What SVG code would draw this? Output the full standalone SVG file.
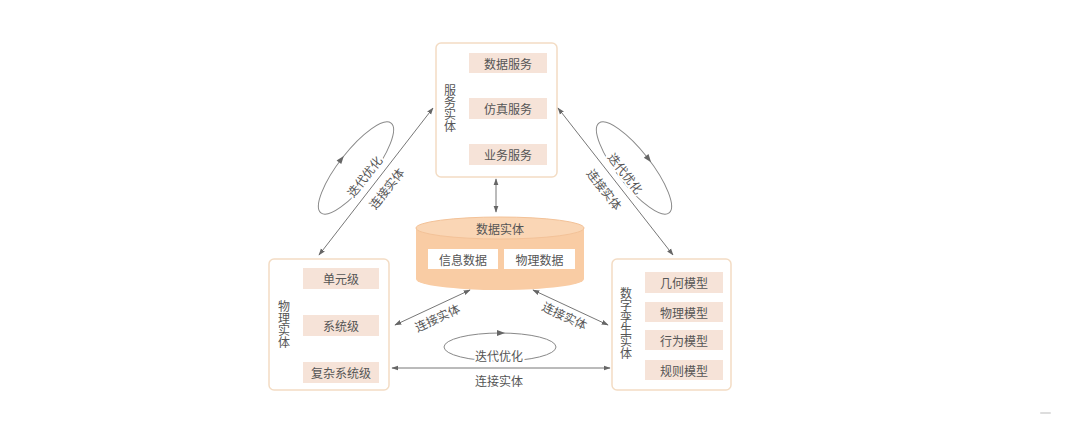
<svg xmlns="http://www.w3.org/2000/svg" width="1080" height="422" viewBox="0 0 1080 422">
<defs>
<marker id="ah" viewBox="0 0 10 10" refX="9" refY="5" markerWidth="7" markerHeight="7" orient="auto-start-reverse" markerUnits="userSpaceOnUse">
<path d="M0,1.5 L10,5 L0,8.5 Z" fill="#666"/>
</marker>
<path id="loophead" d="M-4,-3 L4,0 L-4,3 Z" fill="#666"/>
</defs>
<style>
.frame{fill:#fff;stroke:#f3dcc4;stroke-width:1.5}
.item{fill:#f6e3d8}
.t{font-family:"Noto Sans CJK SC","Noto Sans CJK JP",sans-serif;font-size:12px;fill:#555;text-anchor:middle;dominant-baseline:central}
.v{font-family:"Noto Sans CJK SC","Noto Sans CJK JP",sans-serif;font-size:12px;fill:#555;text-anchor:middle;writing-mode:vertical-rl;text-orientation:upright}
.lbl{font-family:"Noto Sans CJK SC","Noto Sans CJK JP",sans-serif;font-size:12px;fill:#555;text-anchor:middle;dominant-baseline:central}
.halo{paint-order:stroke;stroke:#fff;stroke-width:4px}
.conn{stroke:#777;stroke-width:1;fill:none}
.loop{stroke:#888;stroke-width:1;fill:none}
.w{fill:#fff}
</style>
<rect width="1080" height="422" fill="#fff"/>

<g id="service-entity">
<rect class="frame" x="436" y="43" width="121" height="134" rx="5"/>
<rect class="item" x="469" y="53" width="78" height="20"/>
<text class="t" x="508" y="63">数据服务</text>
<rect class="item" x="469" y="98" width="78" height="21"/>
<text class="t" x="508" y="108.5">仿真服务</text>
<rect class="item" x="469" y="144" width="78" height="21"/>
<text class="t" x="508" y="154.5">业务服务</text>
<text class="v" x="450" y="108">服务实体</text>
</g>

<g id="data-entity">
<path d="M416,228 L416,279 A84,11 0 0 0 584,279 L584,228 Z" fill="#f9cca4"/>
<ellipse cx="500" cy="228" rx="84" ry="11" fill="#fad6b5" stroke="#f3c298" stroke-width="1"/>
<text class="t" x="500" y="228">数据实体</text>
<rect class="w" x="428" y="249" width="70" height="20"/>
<text class="t" x="463" y="259">信息数据</text>
<rect class="w" x="504" y="249" width="71" height="20"/>
<text class="t" x="539.5" y="259">物理数据</text>
</g>

<g id="physical-entity">
<rect class="frame" x="269" y="259" width="120" height="131" rx="5"/>
<rect class="item" x="303" y="268" width="76" height="21"/>
<text class="t" x="341" y="278.5">单元级</text>
<rect class="item" x="303" y="315" width="76" height="21"/>
<text class="t" x="341" y="325.5">系统级</text>
<rect class="item" x="303" y="362" width="76" height="21"/>
<text class="t" x="341" y="372.5">复杂系统级</text>
<text class="v" x="284" y="324">物理实体</text>
</g>

<g id="twin-entity">
<rect class="frame" x="612" y="259" width="119" height="131" rx="5"/>
<rect class="item" x="645" y="272" width="78" height="21"/>
<text class="t" x="684" y="282.5">几何模型</text>
<rect class="item" x="645" y="302" width="78" height="20"/>
<text class="t" x="684" y="312">物理模型</text>
<rect class="item" x="645" y="330" width="78" height="20"/>
<text class="t" x="684" y="340">行为模型</text>
<rect class="item" x="645" y="360" width="78" height="20"/>
<text class="t" x="684" y="370">规则模型</text>
<text class="v" x="626" y="323">数字孪生实体</text>
</g>

<g id="connectors">
<line class="conn" x1="319" y1="255" x2="433" y2="108" marker-start="url(#ah)" marker-end="url(#ah)"/>
<line class="conn" x1="558" y1="108" x2="673" y2="255" marker-start="url(#ah)" marker-end="url(#ah)"/>
<line class="conn" x1="496" y1="179" x2="496" y2="212" marker-start="url(#ah)" marker-end="url(#ah)"/>
<line class="conn" x1="470" y1="290" x2="395" y2="325" marker-start="url(#ah)" marker-end="url(#ah)"/>
<line class="conn" x1="533" y1="290" x2="608" y2="325" marker-start="url(#ah)" marker-end="url(#ah)"/>
<line class="conn" x1="392" y1="368" x2="610" y2="368" marker-start="url(#ah)" marker-end="url(#ah)"/>

<g transform="rotate(-52 356 168)">
<ellipse class="loop" cx="356" cy="168" rx="57" ry="17"/>
<use href="#loophead" x="354" y="151"/>
</g>
<g transform="rotate(52 634 168)">
<ellipse class="loop" cx="634" cy="168" rx="57" ry="17"/>
<use href="#loophead" x="636" y="151"/>
</g>
<ellipse class="loop" cx="500" cy="347" rx="56" ry="14"/>
<use href="#loophead" x="501" y="333"/>

<text class="lbl halo" x="364" y="176" transform="rotate(-52 364 176)">迭代优化</text>
<text class="lbl" x="386" y="188" transform="rotate(-52 386 188)">连接实体</text>
<text class="lbl halo" x="626" y="173" transform="rotate(52 626 173)">迭代优化</text>
<text class="lbl" x="605" y="189" transform="rotate(52 605 189)">连接实体</text>
<text class="lbl" x="437" y="317" transform="rotate(-25 437 317)">连接实体</text>
<text class="lbl" x="565" y="315" transform="rotate(25 565 315)">连接实体</text>
<text class="lbl halo" x="499" y="355">迭代优化</text>
<text class="lbl" x="499" y="380">连接实体</text>
</g>
<rect x="1040" y="412" width="11" height="2" rx="1" fill="#ddd"/>
</svg>
